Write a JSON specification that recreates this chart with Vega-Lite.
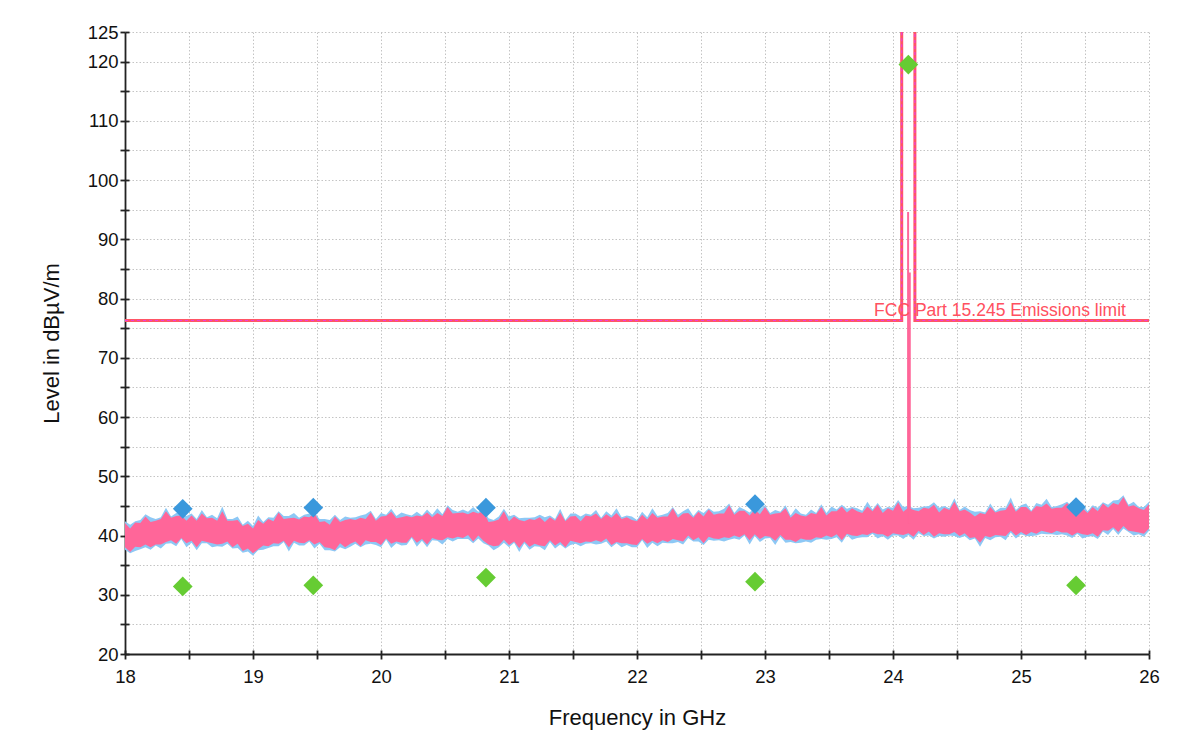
{
"$schema": "https://vega.github.io/schema/vega-lite/v6.json",
"autosize": {"type": "none"},
"width": 1024,
"height": 622,
"padding": {"left": 125, "top": 32, "right": 31, "bottom": 81},
"background": "white",
"config": {"view": {"stroke": null}, "font": "Liberation Sans"},
"datasets": {
"band": [
{"f":18.00,"pl":38.0,"ph":42.1,"bl":37.6,"bh":42.4},
{"f":18.04,"pl":37.2,"ph":41.2,"bl":37.0,"bh":41.8},
{"f":18.08,"pl":38.1,"ph":42.2,"bl":37.4,"bh":42.4},
{"f":18.12,"pl":38.0,"ph":42.1,"bl":37.7,"bh":42.6},
{"f":18.16,"pl":38.5,"ph":43.2,"bl":38.0,"bh":43.6},
{"f":18.20,"pl":38.0,"ph":42.3,"bl":37.6,"bh":43.1},
{"f":18.24,"pl":38.5,"ph":42.5,"bl":38.3,"bh":42.8},
{"f":18.28,"pl":38.5,"ph":42.8,"bl":37.8,"bh":43.1},
{"f":18.32,"pl":38.9,"ph":44.1,"bl":38.6,"bh":44.7},
{"f":18.36,"pl":39.2,"ph":43.0,"bl":38.7,"bh":43.2},
{"f":18.40,"pl":38.6,"ph":43.3,"bl":38.2,"bh":43.8},
{"f":18.44,"pl":39.6,"ph":43.4,"bl":39.4,"bh":43.8},
{"f":18.48,"pl":38.7,"ph":42.5,"bl":38.0,"bh":43.3},
{"f":18.52,"pl":39.1,"ph":43.4,"bl":38.8,"bh":43.7},
{"f":18.56,"pl":38.0,"ph":42.5,"bl":37.5,"bh":42.8},
{"f":18.60,"pl":39.1,"ph":43.7,"bl":38.7,"bh":44.3},
{"f":18.64,"pl":38.9,"ph":42.9,"bl":38.7,"bh":43.1},
{"f":18.68,"pl":38.7,"ph":43.0,"bl":38.0,"bh":43.5},
{"f":18.72,"pl":38.5,"ph":42.5,"bl":38.2,"bh":42.9},
{"f":18.76,"pl":38.6,"ph":44.1,"bl":38.1,"bh":44.9},
{"f":18.80,"pl":39.0,"ph":42.5,"bl":38.6,"bh":42.8},
{"f":18.84,"pl":38.0,"ph":42.5,"bl":37.8,"bh":42.8},
{"f":18.88,"pl":38.6,"ph":42.6,"bl":37.9,"bh":43.2},
{"f":18.92,"pl":37.4,"ph":41.6,"bl":37.1,"bh":41.8},
{"f":18.96,"pl":37.8,"ph":42.0,"bl":37.3,"bh":42.5},
{"f":19.00,"pl":37.0,"ph":41.2,"bl":36.6,"bh":41.6},
{"f":19.04,"pl":37.7,"ph":42.6,"bl":37.5,"bh":43.4},
{"f":19.08,"pl":38.3,"ph":42.0,"bl":37.6,"bh":42.3},
{"f":19.12,"pl":38.2,"ph":42.8,"bl":37.9,"bh":43.1},
{"f":19.16,"pl":38.7,"ph":42.4,"bl":38.2,"bh":43.0},
{"f":19.20,"pl":38.6,"ph":43.9,"bl":38.2,"bh":44.1},
{"f":19.24,"pl":39.1,"ph":42.8,"bl":38.9,"bh":43.3},
{"f":19.28,"pl":38.0,"ph":42.9,"bl":37.3,"bh":43.3},
{"f":19.32,"pl":39.1,"ph":43.0,"bl":38.8,"bh":43.8},
{"f":19.36,"pl":38.8,"ph":42.7,"bl":38.3,"bh":43.0},
{"f":19.40,"pl":38.7,"ph":43.2,"bl":38.3,"bh":43.5},
{"f":19.44,"pl":39.2,"ph":43.1,"bl":39.0,"bh":43.7},
{"f":19.48,"pl":38.5,"ph":43.7,"bl":37.8,"bh":43.9},
{"f":19.52,"pl":38.9,"ph":42.3,"bl":38.6,"bh":42.8},
{"f":19.56,"pl":38.0,"ph":42.4,"bl":37.5,"bh":42.8},
{"f":19.60,"pl":37.9,"ph":41.8,"bl":37.5,"bh":42.6},
{"f":19.64,"pl":37.5,"ph":43.2,"bl":37.3,"bh":43.5},
{"f":19.68,"pl":38.7,"ph":42.3,"bl":38.0,"bh":42.6},
{"f":19.72,"pl":38.0,"ph":42.6,"bl":37.7,"bh":43.2},
{"f":19.76,"pl":38.6,"ph":42.8,"bl":38.1,"bh":43.0},
{"f":19.80,"pl":39.0,"ph":42.6,"bl":38.6,"bh":43.1},
{"f":19.84,"pl":38.2,"ph":43.0,"bl":38.0,"bh":43.4},
{"f":19.88,"pl":39.2,"ph":42.8,"bl":38.5,"bh":43.6},
{"f":19.92,"pl":38.9,"ph":43.9,"bl":38.6,"bh":44.2},
{"f":19.96,"pl":38.9,"ph":42.5,"bl":38.4,"bh":42.8},
{"f":20.00,"pl":38.4,"ph":43.2,"bl":38.0,"bh":43.8},
{"f":20.04,"pl":39.5,"ph":43.3,"bl":39.3,"bh":43.5},
{"f":20.08,"pl":38.6,"ph":44.0,"bl":37.9,"bh":44.5},
{"f":20.12,"pl":39.0,"ph":42.9,"bl":38.7,"bh":43.3},
{"f":20.16,"pl":38.8,"ph":43.1,"bl":38.3,"bh":43.9},
{"f":20.20,"pl":38.8,"ph":43.3,"bl":38.4,"bh":43.6},
{"f":20.24,"pl":39.8,"ph":43.1,"bl":39.6,"bh":43.4},
{"f":20.28,"pl":38.8,"ph":43.4,"bl":38.1,"bh":44.0},
{"f":20.32,"pl":39.4,"ph":43.2,"bl":39.1,"bh":43.4},
{"f":20.36,"pl":38.5,"ph":43.9,"bl":38.0,"bh":44.4},
{"f":20.40,"pl":39.6,"ph":43.1,"bl":39.2,"bh":43.5},
{"f":20.44,"pl":39.3,"ph":43.8,"bl":39.1,"bh":44.6},
{"f":20.48,"pl":39.2,"ph":43.3,"bl":38.5,"bh":43.6},
{"f":20.52,"pl":39.7,"ph":44.8,"bl":39.4,"bh":45.1},
{"f":20.56,"pl":39.5,"ph":43.7,"bl":39.0,"bh":44.3},
{"f":20.60,"pl":39.8,"ph":43.8,"bl":39.4,"bh":44.0},
{"f":20.64,"pl":39.6,"ph":43.9,"bl":39.4,"bh":44.4},
{"f":20.68,"pl":40.1,"ph":43.6,"bl":39.4,"bh":44.0},
{"f":20.72,"pl":39.0,"ph":44.0,"bl":38.7,"bh":44.8},
{"f":20.76,"pl":40.0,"ph":43.7,"bl":39.5,"bh":44.0},
{"f":20.80,"pl":39.1,"ph":44.2,"bl":38.7,"bh":44.5},
{"f":20.84,"pl":38.5,"ph":42.3,"bl":38.3,"bh":42.9},
{"f":20.88,"pl":38.2,"ph":42.4,"bl":37.5,"bh":42.6},
{"f":20.92,"pl":38.3,"ph":42.7,"bl":38.0,"bh":43.2},
{"f":20.96,"pl":39.3,"ph":44.1,"bl":38.8,"bh":44.5},
{"f":21.00,"pl":38.4,"ph":42.4,"bl":38.0,"bh":43.2},
{"f":21.04,"pl":39.0,"ph":43.2,"bl":38.8,"bh":43.5},
{"f":21.08,"pl":37.9,"ph":42.6,"bl":37.2,"bh":42.9},
{"f":21.12,"pl":39.0,"ph":42.4,"bl":38.7,"bh":43.0},
{"f":21.16,"pl":38.1,"ph":42.8,"bl":37.6,"bh":43.0},
{"f":21.20,"pl":38.6,"ph":42.6,"bl":38.2,"bh":43.1},
{"f":21.24,"pl":38.3,"ph":43.1,"bl":38.1,"bh":43.5},
{"f":21.28,"pl":38.2,"ph":42.3,"bl":37.5,"bh":43.1},
{"f":21.32,"pl":39.2,"ph":43.1,"bl":38.9,"bh":43.4},
{"f":21.36,"pl":38.3,"ph":42.5,"bl":37.8,"bh":42.8},
{"f":21.40,"pl":38.9,"ph":43.9,"bl":38.5,"bh":44.5},
{"f":21.44,"pl":38.0,"ph":42.4,"bl":37.8,"bh":42.6},
{"f":21.48,"pl":39.1,"ph":43.2,"bl":38.4,"bh":43.7},
{"f":21.52,"pl":38.9,"ph":43.3,"bl":38.6,"bh":43.7},
{"f":21.56,"pl":38.7,"ph":42.4,"bl":38.2,"bh":43.2},
{"f":21.60,"pl":39.0,"ph":43.4,"bl":38.6,"bh":43.7},
{"f":21.64,"pl":38.9,"ph":43.2,"bl":38.7,"bh":43.5},
{"f":21.68,"pl":39.2,"ph":43.7,"bl":38.5,"bh":44.3},
{"f":21.72,"pl":38.9,"ph":42.8,"bl":38.6,"bh":43.0},
{"f":21.76,"pl":39.5,"ph":43.6,"bl":39.0,"bh":44.1},
{"f":21.80,"pl":38.4,"ph":43.0,"bl":38.0,"bh":43.4},
{"f":21.84,"pl":38.9,"ph":43.8,"bl":38.7,"bh":44.6},
{"f":21.88,"pl":38.7,"ph":42.8,"bl":38.0,"bh":43.1},
{"f":21.92,"pl":38.7,"ph":43.1,"bl":38.4,"bh":43.4},
{"f":21.96,"pl":38.5,"ph":42.6,"bl":38.0,"bh":43.2},
{"f":22.00,"pl":38.4,"ph":42.4,"bl":38.0,"bh":42.6},
{"f":22.04,"pl":39.4,"ph":43.5,"bl":39.2,"bh":44.0},
{"f":22.08,"pl":38.6,"ph":42.7,"bl":37.9,"bh":43.1},
{"f":22.12,"pl":39.1,"ph":43.8,"bl":38.8,"bh":44.6},
{"f":22.16,"pl":38.7,"ph":43.0,"bl":38.2,"bh":43.3},
{"f":22.20,"pl":39.2,"ph":43.2,"bl":38.8,"bh":43.5},
{"f":22.24,"pl":38.9,"ph":43.2,"bl":38.7,"bh":43.8},
{"f":22.28,"pl":39.4,"ph":44.6,"bl":38.7,"bh":44.8},
{"f":22.32,"pl":39.2,"ph":43.0,"bl":38.9,"bh":43.5},
{"f":22.36,"pl":39.0,"ph":43.7,"bl":38.5,"bh":44.1},
{"f":22.40,"pl":40.0,"ph":43.8,"bl":39.6,"bh":44.6},
{"f":22.44,"pl":39.2,"ph":43.0,"bl":39.0,"bh":43.3},
{"f":22.48,"pl":39.7,"ph":44.0,"bl":39.0,"bh":44.3},
{"f":22.52,"pl":38.7,"ph":43.2,"bl":38.4,"bh":43.8},
{"f":22.56,"pl":39.8,"ph":44.4,"bl":39.3,"bh":44.6},
{"f":22.60,"pl":39.5,"ph":43.5,"bl":39.1,"bh":44.0},
{"f":22.64,"pl":39.4,"ph":43.7,"bl":39.2,"bh":44.1},
{"f":22.68,"pl":39.7,"ph":43.7,"bl":39.0,"bh":44.5},
{"f":22.72,"pl":39.6,"ph":45.1,"bl":39.3,"bh":45.4},
{"f":22.76,"pl":40.0,"ph":43.5,"bl":39.5,"bh":43.8},
{"f":22.80,"pl":39.7,"ph":44.2,"bl":39.3,"bh":44.8},
{"f":22.84,"pl":40.2,"ph":44.2,"bl":40.0,"bh":44.4},
{"f":22.88,"pl":39.2,"ph":43.4,"bl":38.5,"bh":43.9},
{"f":22.92,"pl":40.2,"ph":44.4,"bl":39.9,"bh":44.8},
{"f":22.96,"pl":39.4,"ph":43.6,"bl":38.9,"bh":44.4},
{"f":23.00,"pl":39.9,"ph":44.8,"bl":39.5,"bh":45.1},
{"f":23.04,"pl":39.8,"ph":43.5,"bl":39.6,"bh":43.8},
{"f":23.08,"pl":39.1,"ph":43.7,"bl":38.4,"bh":44.3},
{"f":23.12,"pl":40.1,"ph":43.8,"bl":39.8,"bh":44.0},
{"f":23.16,"pl":39.3,"ph":44.6,"bl":38.8,"bh":45.1},
{"f":23.20,"pl":39.3,"ph":43.0,"bl":38.9,"bh":43.4},
{"f":23.24,"pl":38.9,"ph":43.8,"bl":38.7,"bh":44.6},
{"f":23.28,"pl":39.5,"ph":43.4,"bl":38.8,"bh":43.7},
{"f":23.32,"pl":39.3,"ph":43.2,"bl":39.0,"bh":43.5},
{"f":23.36,"pl":39.3,"ph":43.8,"bl":38.8,"bh":44.4},
{"f":23.40,"pl":39.7,"ph":43.6,"bl":39.3,"bh":43.8},
{"f":23.44,"pl":39.6,"ph":44.8,"bl":39.4,"bh":45.3},
{"f":23.48,"pl":40.0,"ph":43.4,"bl":39.3,"bh":43.8},
{"f":23.52,"pl":39.7,"ph":44.1,"bl":39.4,"bh":44.9},
{"f":23.56,"pl":40.2,"ph":44.1,"bl":39.7,"bh":44.4},
{"f":23.60,"pl":39.2,"ph":44.9,"bl":38.8,"bh":45.2},
{"f":23.64,"pl":40.3,"ph":43.9,"bl":40.1,"bh":44.5},
{"f":23.68,"pl":40.0,"ph":44.6,"bl":39.3,"bh":44.8},
{"f":23.72,"pl":39.9,"ph":44.1,"bl":39.6,"bh":44.6},
{"f":23.76,"pl":40.2,"ph":43.8,"bl":39.7,"bh":44.2},
{"f":23.80,"pl":40.1,"ph":44.9,"bl":39.7,"bh":45.7},
{"f":23.84,"pl":40.5,"ph":44.1,"bl":40.3,"bh":44.4},
{"f":23.88,"pl":40.2,"ph":45.2,"bl":39.5,"bh":45.5},
{"f":23.92,"pl":40.2,"ph":43.8,"bl":39.9,"bh":44.4},
{"f":23.96,"pl":39.8,"ph":44.6,"bl":39.3,"bh":44.8},
{"f":24.00,"pl":40.4,"ph":44.2,"bl":40.0,"bh":44.7},
{"f":24.04,"pl":40.2,"ph":45.6,"bl":40.0,"bh":46.0},
{"f":24.08,"pl":40.1,"ph":44.0,"bl":39.4,"bh":44.8},
{"f":24.12,"pl":40.4,"ph":44.7,"bl":40.1,"bh":45.0},
{"f":24.16,"pl":39.8,"ph":44.3,"bl":39.3,"bh":44.6},
{"f":24.20,"pl":40.8,"ph":44.1,"bl":40.4,"bh":44.7},
{"f":24.24,"pl":40.1,"ph":44.7,"bl":39.9,"bh":44.9},
{"f":24.28,"pl":40.7,"ph":44.5,"bl":40.0,"bh":45.0},
{"f":24.32,"pl":39.8,"ph":45.2,"bl":39.5,"bh":45.6},
{"f":24.36,"pl":40.4,"ph":43.9,"bl":39.9,"bh":44.7},
{"f":24.40,"pl":40.2,"ph":44.7,"bl":39.8,"bh":45.0},
{"f":24.44,"pl":40.2,"ph":44.3,"bl":40.0,"bh":44.6},
{"f":24.48,"pl":40.6,"ph":45.7,"bl":39.9,"bh":46.3},
{"f":24.52,"pl":39.9,"ph":44.1,"bl":39.6,"bh":44.3},
{"f":24.56,"pl":40.4,"ph":44.4,"bl":39.9,"bh":44.9},
{"f":24.60,"pl":39.6,"ph":43.9,"bl":39.2,"bh":44.3},
{"f":24.64,"pl":39.7,"ph":43.2,"bl":39.5,"bh":44.0},
{"f":24.68,"pl":38.8,"ph":43.8,"bl":38.1,"bh":44.1},
{"f":24.72,"pl":39.9,"ph":43.6,"bl":39.6,"bh":43.9},
{"f":24.76,"pl":39.7,"ph":44.8,"bl":39.2,"bh":45.4},
{"f":24.80,"pl":40.1,"ph":43.9,"bl":39.7,"bh":44.1},
{"f":24.84,"pl":40.0,"ph":44.2,"bl":39.8,"bh":44.7},
{"f":24.88,"pl":39.9,"ph":44.3,"bl":39.2,"bh":44.7},
{"f":24.92,"pl":40.8,"ph":45.6,"bl":40.5,"bh":46.4},
{"f":24.96,"pl":40.0,"ph":44.0,"bl":39.5,"bh":44.3},
{"f":25.00,"pl":40.6,"ph":44.8,"bl":40.2,"bh":45.1},
{"f":25.04,"pl":40.1,"ph":44.8,"bl":39.9,"bh":45.4},
{"f":25.08,"pl":40.6,"ph":44.0,"bl":39.9,"bh":44.2},
{"f":25.12,"pl":40.3,"ph":45.0,"bl":40.0,"bh":45.5},
{"f":25.16,"pl":40.8,"ph":44.8,"bl":40.3,"bh":45.2},
{"f":25.20,"pl":40.6,"ph":45.4,"bl":40.2,"bh":46.2},
{"f":25.24,"pl":40.4,"ph":44.5,"bl":40.2,"bh":44.8},
{"f":25.28,"pl":40.8,"ph":44.7,"bl":40.1,"bh":45.0},
{"f":25.32,"pl":40.5,"ph":44.7,"bl":40.2,"bh":45.3},
{"f":25.36,"pl":40.5,"ph":45.5,"bl":40.0,"bh":45.7},
{"f":25.40,"pl":40.0,"ph":44.4,"bl":39.6,"bh":44.9},
{"f":25.44,"pl":40.5,"ph":44.6,"bl":40.3,"bh":45.0},
{"f":25.48,"pl":40.2,"ph":44.6,"bl":39.5,"bh":45.4},
{"f":25.52,"pl":40.1,"ph":43.8,"bl":39.8,"bh":44.1},
{"f":25.56,"pl":40.4,"ph":44.8,"bl":39.9,"bh":45.1},
{"f":25.60,"pl":39.8,"ph":44.1,"bl":39.4,"bh":44.7},
{"f":25.64,"pl":40.9,"ph":45.4,"bl":40.7,"bh":45.6},
{"f":25.68,"pl":40.8,"ph":44.7,"bl":40.1,"bh":45.2},
{"f":25.72,"pl":41.4,"ph":45.5,"bl":41.1,"bh":45.9},
{"f":25.76,"pl":40.6,"ph":45.2,"bl":40.1,"bh":46.0},
{"f":25.80,"pl":41.6,"ph":46.5,"bl":41.2,"bh":46.8},
{"f":25.84,"pl":40.8,"ph":44.9,"bl":40.6,"bh":45.2},
{"f":25.88,"pl":40.7,"ph":45.1,"bl":40.0,"bh":45.7},
{"f":25.92,"pl":40.5,"ph":44.6,"bl":40.2,"bh":44.8},
{"f":25.96,"pl":40.3,"ph":44.3,"bl":39.8,"bh":44.8},
{"f":26.00,"pl":41.2,"ph":45.3,"bl":40.8,"bh":45.7}
],
"spikes": [
{"f":24.118,"lo":42.0,"hi":94.6},
{"f":24.131,"lo":42.0,"hi":84.4}
],
"limit": [
{"i":1,"f":18.0,"v":76.3},
{"i":2,"f":24.068,"v":76.3},
{"i":3,"f":24.068,"v":127},
{"i":4,"f":24.171,"v":127},
{"i":5,"f":24.171,"v":76.3},
{"i":6,"f":26.0,"v":76.3}
],
"peak": [
{"f":18.451,"v":44.5},
{"f":19.471,"v":44.7},
{"f":20.820,"v":44.7},
{"f":22.922,"v":45.3},
{"f":25.430,"v":44.8}
],
"avg": [
{"f":18.451,"v":31.4},
{"f":19.471,"v":31.6},
{"f":20.820,"v":32.9},
{"f":22.922,"v":32.2},
{"f":24.120,"v":119.5},
{"f":25.430,"v":31.6}
],
"label": [
{"f":23.852,"v":77.0,"t":"FCC Part 15.245 Emissions limit"}
]
},
"resolve": {"axis": {"x": "independent", "y": "independent"}},
"layer": [
{
"data": {"name": "band"},
"mark": {"type": "area", "color": "#8DC8F5", "interpolate": "linear"},
"encoding": {
"x": {"field": "f", "type": "quantitative",
 "scale": {"domain": [18, 26], "nice": false, "zero": false},
 "axis": {"orient": "bottom", "title": "Frequency in GHz",
  "values": [18,18.5,19,19.5,20,20.5,21,21.5,22,22.5,23,23.5,24,24.5,25,25.5,26],
  "labelExpr": "datum.value % 1 == 0 ? format(datum.value, 'd') : ''",
  "labelFlush": false, "labelOverlap": false,
  "labelFont": "Liberation Sans", "labelFontSize": 18.5, "labelColor": "#111111", "labelPadding": 8,
  "titleFont": "Liberation Sans", "titleFontSize": 22, "titleFontWeight": "normal", "titleColor": "#111111", "titlePadding": 22,
  "domain": true, "domainColor": "#222222", "domainWidth": 1.8,
  "ticks": true, "tickSize": 5, "tickColor": "#222222", "tickWidth": 1.8,
  "grid": true, "gridColor": "#C4C4C4", "gridDash": [1.5, 2], "gridWidth": 1}},
"y": {"field": "bl", "type": "quantitative",
 "scale": {"domain": [20, 125], "nice": false, "zero": false},
 "axis": {"orient": "left", "title": "Level in dBµV/m",
  "values": [20,25,30,35,40,45,50,55,60,65,70,75,80,85,90,95,100,105,110,115,120,125],
  "labelExpr": "datum.value % 10 == 0 || datum.value == 125 ? datum.label : ''",
  "labelOverlap": false, "labelFlush": false,
  "labelFont": "Liberation Sans", "labelFontSize": 18.5, "labelColor": "#111111", "labelPadding": 2,
  "titleFont": "Liberation Sans", "titleFontSize": 22, "titleFontWeight": "normal", "titleColor": "#111111", "titlePadding": 24,
  "domain": true, "domainColor": "#222222", "domainWidth": 1.8,
  "ticks": true, "tickSize": 5, "tickColor": "#222222", "tickWidth": 1.8,
  "grid": true, "gridColor": "#C4C4C4", "gridDash": [1.5, 2], "gridWidth": 1}},
"y2": {"field": "bh"}
}
},
{
"data": {"name": "band"},
"mark": {"type": "area", "color": "#FF6699", "interpolate": "linear"},
"encoding": {
"x": {"field": "f", "type": "quantitative",
 "axis": {"orient": "bottom", "title": null, "offset": -4, "domain": false, "labels": false, "grid": false,
  "values": [18,18.5,19,19.5,20,20.5,21,21.5,22,22.5,23,23.5,24,24.5,25,25.5,26],
  "ticks": true, "tickSize": 4, "tickColor": "#222222", "tickWidth": 1.8}},
"y": {"field": "pl", "type": "quantitative",
 "axis": {"orient": "left", "title": null, "offset": -4, "domain": false, "labels": false, "grid": false,
  "values": [20,25,30,35,40,45,50,55,60,65,70,75,80,85,90,95,100,105,110,115,120,125],
  "ticks": true, "tickSize": 4, "tickColor": "#222222", "tickWidth": 1.8}},
"y2": {"field": "ph"}
}
},
{
"data": {"name": "spikes"},
"mark": {"type": "rule", "color": "#FF6699", "strokeWidth": 2},
"encoding": {
"x": {"field": "f", "type": "quantitative", "axis": null},
"y": {"field": "lo", "type": "quantitative", "axis": null},
"y2": {"field": "hi"}
}
},
{
"data": {"name": "limit"},
"mark": {"type": "line", "color": "#FF5566", "strokeWidth": 3, "clip": true},
"encoding": {
"x": {"field": "f", "type": "quantitative", "axis": null},
"y": {"field": "v", "type": "quantitative", "axis": null},
"order": {"field": "i", "type": "quantitative"}
}
},
{
"data": {"name": "limit"},
"mark": {"type": "line", "color": "#EE3FD6", "strokeWidth": 1.2, "strokeDash": [3, 3], "clip": true},
"encoding": {
"x": {"field": "f", "type": "quantitative", "axis": null},
"y": {"field": "v", "type": "quantitative", "axis": null},
"order": {"field": "i", "type": "quantitative"}
}
},
{
"data": {"name": "peak"},
"mark": {"type": "point", "shape": "diamond", "filled": true, "size": 390, "color": "#3A98DC", "opacity": 1},
"encoding": {
"x": {"field": "f", "type": "quantitative", "axis": null},
"y": {"field": "v", "type": "quantitative", "axis": null}
}
},
{
"data": {"name": "avg"},
"mark": {"type": "point", "shape": "diamond", "filled": true, "size": 390, "color": "#66CC33", "opacity": 1},
"encoding": {
"x": {"field": "f", "type": "quantitative", "axis": null},
"y": {"field": "v", "type": "quantitative", "axis": null}
}
},
{
"data": {"name": "label"},
"mark": {"type": "text", "align": "left", "baseline": "alphabetic", "font": "Liberation Sans", "fontSize": 17.5, "color": "#FF5060"},
"encoding": {
"x": {"field": "f", "type": "quantitative", "axis": null},
"y": {"field": "v", "type": "quantitative", "axis": null},
"text": {"field": "t"}
}
}
]
}
